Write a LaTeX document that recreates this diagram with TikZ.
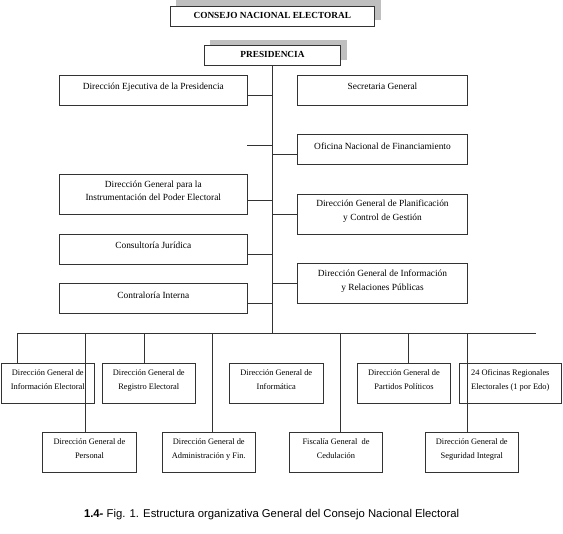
\documentclass[tikz,border=0pt]{standalone}
\usepackage{fontspec}
\setmainfont{Liberation Serif}
\newfontfamily\capfont{Liberation Sans}
\usetikzlibrary{shadows}

\tikzset{
  unit/.style={draw=black!80, line width=0.9pt, fill=white, inner sep=1pt, align=center,
    text depth=7.5pt, font=\fontsize{9.4}{13.7}\selectfont},
  head/.style={unit, minimum height=20pt, text depth=2pt, font=\fontsize{9.3}{11}\selectfont\bfseries,
    drop shadow={shadow xshift=6pt, shadow yshift=6pt, fill=black!25, opacity=1}},
  leftunit/.style={unit, minimum width=187.3pt},
  rightunit/.style={unit, minimum width=170.4pt},
  lowunit/.style={unit, minimum width=93.6pt, minimum height=40pt,
    font=\fontsize{8.4}{13.9}\selectfont},
  link/.style={draw=black!80, line width=0.9pt},
}

\begin{document}
\begin{tikzpicture}[x=1pt,y=-1pt]
\useasboundingbox (0,0) rectangle (563,534);
% Heads
\node[head, minimum width=204.7pt] (cne) at (272.3,16) {CONSEJO NACIONAL ELECTORAL};
\node[head, minimum width=136.4pt] (pres) at (272.5,55.7) {PRESIDENCIA};
% Staff units
\node[leftunit, minimum height=30pt] (dep) at (153.3,90.3) {Dirección Ejecutiva de la Presidencia};
\node[rightunit, minimum height=30pt] (sec) at (382.5,90.3) {Secretaria General};
\node[rightunit, minimum height=29.7pt] (onf) at (382.5,149.8) {Oficina Nacional de Financiamiento};
\node[leftunit, minimum height=39.6pt] (dgipe) at (153.3,194.5) {Dirección General para la\\Instrumentación del Poder Electoral};
\node[rightunit, minimum height=39.7pt] (dgpcg) at (382.5,214.2) {Dirección General de Planificación\\y Control de Gestión};
\node[leftunit, minimum height=29.7pt] (cj) at (153.3,249.2) {Consultoría Jurídica};
\node[rightunit, minimum height=39.7pt] (dgirp) at (382.5,283.8) {Dirección General de Información\\y Relaciones Públicas};
\node[leftunit, minimum height=29.6pt] (ci) at (153.3,298.5) {Contraloría Interna};
% Line units
\node[lowunit, minimum width=93pt] (dgie) at (47.8,383) {Dirección General de\\Información Electoral};
\node[lowunit] (dgre) at (148.8,383) {Dirección General de\\Registro Electoral};
\node[lowunit, minimum width=94pt] (dgi) at (276.3,383) {Dirección General de\\Informática};
\node[lowunit] (dgpp) at (404,383) {Dirección General de\\Partidos Políticos};
\node[lowunit, minimum width=102.7pt] (ore) at (510.3,383) {24 Oficinas Regionales\\Electorales (1 por Edo)};
\node[lowunit] (dgp) at (89.5,452.3) {Dirección General de\\Personal};
\node[lowunit] (dgaf) at (208.8,452.3) {Dirección General de\\Administración y Fin.};
\node[lowunit] (fgc) at (336,452.3) {Fiscalía General\ \ de\\Cedulación};
\node[lowunit] (dgsi) at (471.8,452.3) {Dirección General de\\Seguridad Integral};
% Caption
\node[font=\capfont\fontsize{11.3}{13}\selectfont, inner sep=0pt] (cap) at (271.6,515)
  {\textbf{1.4-} Fig. 1. Estructura organizativa General del Consejo Nacional Electoral};

% Spine and bus
\coordinate (busL) at (17.3,333.3);
\coordinate (busR) at (536,333.3);
\coordinate (stub) at (247,145);
\draw[link] (pres.south) -- (pres.south |- busL);
\draw[link] (busL) -- (busR);
% Staff links
\draw[link] ([yshift=-5pt]dep.east) -- ([yshift=-5pt]dep.east -| pres.south);
\draw[link] (stub) -- (stub -| pres.south);
\draw[link] ([yshift=-5pt]onf.west) -- ([yshift=-5pt]onf.west -| pres.south);
\draw[link] ([yshift=-5.5pt]dgipe.east) -- ([yshift=-5.5pt]dgipe.east -| pres.south);
\draw[link] (dgpcg.west) -- (dgpcg.west -| pres.south);
\draw[link] ([yshift=-5pt]cj.east) -- ([yshift=-5pt]cj.east -| pres.south);
\draw[link] (dgirp.west) -- (dgirp.west -| pres.south);
\draw[link] ([yshift=-5pt]ci.east) -- ([yshift=-5pt]ci.east -| pres.south);
% Drops
\draw[link] ([xshift=-30.5pt]dgie.north) -- ([xshift=-30.5pt]dgie.north |- busL);
\draw[link] ([xshift=-3.8pt]dgp.north) -- ([xshift=-3.8pt]dgp.north |- busL);
\draw[link] ([xshift=-4.1pt]dgre.north) -- ([xshift=-4.1pt]dgre.north |- busL);
\draw[link] ([xshift=3.9pt]dgaf.north) -- ([xshift=3.9pt]dgaf.north |- busL);
\draw[link] ([xshift=4.3pt]fgc.north) -- ([xshift=4.3pt]fgc.north |- busL);
\draw[link] ([xshift=4.3pt]dgpp.north) -- ([xshift=4.3pt]dgpp.north |- busL);
\draw[link] ([xshift=-4.1pt]dgsi.north) -- ([xshift=-4.1pt]dgsi.north |- busL);
\end{tikzpicture}
\end{document}
